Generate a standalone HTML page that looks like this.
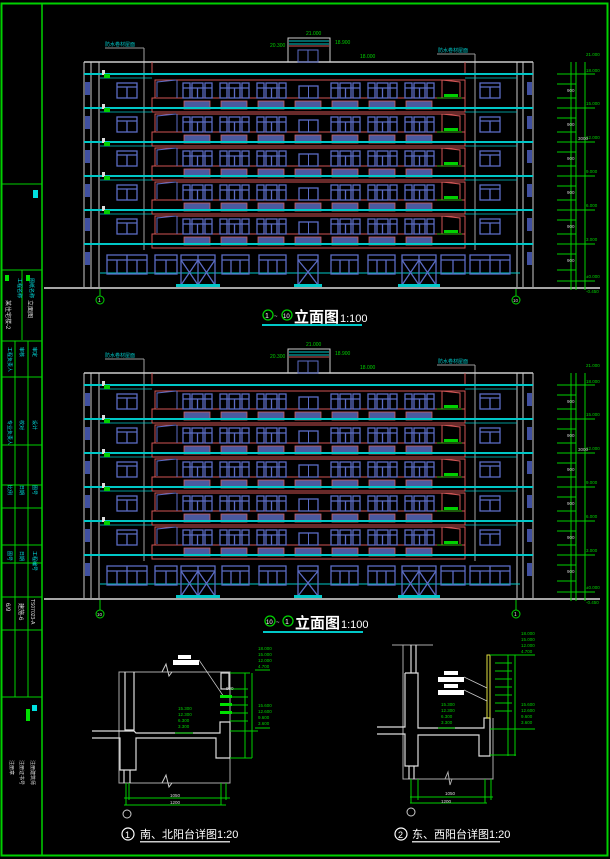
<!DOCTYPE html>
<html><head><meta charset="utf-8"><style>
html,body{margin:0;padding:0;background:#000;width:610px;height:859px;overflow:hidden}
svg{display:block}
text{font-family:"Liberation Sans","Noto Sans CJK SC",sans-serif}
</style></head><body>
<svg width="610" height="859" viewBox="0 0 610 859" xmlns="http://www.w3.org/2000/svg">
<defs>
<g id="tri" fill="none" stroke="#5b6cc4" stroke-width="1.3">
 <rect x="0" y="9" width="7" height="15"/><rect x="9" y="9" width="11" height="15"/><rect x="22" y="9" width="7" height="15"/>
 <line x1="0" y1="14" x2="29" y2="14"/><line x1="14.5" y1="14" x2="14.5" y2="24"/>
</g>
<g id="floor">
 <rect x="84" y="-1" width="449" height="2" fill="#00c8c8"/>
 <line x1="100" y1="4" x2="152" y2="4" stroke="#00c8c8" stroke-width="0.8"/>
 <line x1="465" y1="4" x2="517" y2="4" stroke="#00c8c8" stroke-width="0.8"/>
 <rect x="155" y="6" width="310" height="18" fill="none" stroke="#d05555" stroke-width="1"/>
 <rect x="152" y="24" width="313" height="14" fill="none" stroke="#d05555" stroke-width="1"/>
 <path d="M157 23 L157 8 L176 6 M177 6 L177 24" fill="none" stroke="#5b6cc4"/>
 <path d="M442 6 L460 8 L460 23 M442 6 L442 24" fill="none" stroke="#d05555"/>
 <use href="#tri" x="183"/><use href="#tri" x="220"/><use href="#tri" x="257"/>
 <use href="#tri" x="331"/><use href="#tri" x="368"/><use href="#tri" x="405"/>
 <rect x="299" y="12" width="19" height="12" fill="none" stroke="#5b6cc4" stroke-width="1.3"/>
 <line x1="308.5" y1="12" x2="308.5" y2="24" stroke="#5b6cc4"/>
 <g fill="#4a5aa0" stroke="#d06060" stroke-width="0.8">
  <rect x="184" y="27" width="26" height="8"/><rect x="221" y="27" width="26" height="8"/><rect x="258" y="27" width="26" height="8"/><rect x="295" y="27" width="26" height="8"/><rect x="332" y="27" width="26" height="8"/><rect x="369" y="27" width="26" height="8"/><rect x="406" y="27" width="26" height="8"/>
 </g>
 <g fill="none" stroke="#5b6cc4" stroke-width="1.3">
  <rect x="117" y="9" width="20" height="15"/><line x1="117" y1="13" x2="137" y2="13"/><line x1="127" y1="13" x2="127" y2="24"/>
  <rect x="480" y="9" width="20" height="15"/><line x1="480" y1="13" x2="500" y2="13"/><line x1="490" y1="13" x2="490" y2="24"/>
 </g>
 <rect x="85" y="8" width="5" height="13" fill="#4050a0"/>
 <rect x="527" y="8" width="5" height="13" fill="#4050a0"/>
 <rect x="102" y="-4" width="3" height="5" fill="#ddd"/>
 <rect x="104" y="0" width="6" height="4" fill="#00d000"/>
 <rect x="444" y="20" width="14" height="3" fill="#00d000"/>
 <line x1="437" y1="24" x2="462" y2="24" stroke="#00d000" stroke-width="0.8"/>
</g>
<g id="elev">
 <line x1="84" y1="62" x2="533" y2="62" stroke="#ccc" stroke-width="1.5"/>
 <line x1="84" y1="62" x2="84" y2="287" stroke="#ccc"/><line x1="91" y1="62" x2="91" y2="287" stroke="#ccc"/><line x1="99" y1="62" x2="99" y2="287" stroke="#ccc"/>
 <line x1="517" y1="62" x2="517" y2="287" stroke="#ccc"/><line x1="523" y1="62" x2="523" y2="287" stroke="#ccc"/><line x1="533" y1="62" x2="533" y2="287" stroke="#ccc"/>
 <line x1="144" y1="48" x2="144" y2="250" stroke="#ccc" stroke-width="0.8"/>
 <line x1="475" y1="54" x2="475" y2="250" stroke="#ccc" stroke-width="0.8"/>
 <line x1="105" y1="48" x2="144" y2="48" stroke="#999"/><line x1="437" y1="54" x2="475" y2="54" stroke="#999"/>
 <text x="105" y="46" font-size="5" fill="#00c8c8">防水卷材屋面</text>
 <text x="438" y="52" font-size="5" fill="#00c8c8">防水卷材屋面</text>
 <line x1="152" y1="62" x2="152" y2="74" stroke="#d05555"/><line x1="465" y1="62" x2="465" y2="74" stroke="#d05555"/>
 <rect x="288" y="38" width="42" height="24" fill="none" stroke="#ccc"/>
 <line x1="289" y1="41" x2="329" y2="41" stroke="#00c8c8"/><line x1="289" y1="44" x2="329" y2="44" stroke="#00c8c8"/><line x1="289" y1="46" x2="329" y2="46" stroke="#d05555"/>
 <rect x="298" y="50" width="20" height="12" fill="none" stroke="#5b6cc4"/><line x1="308" y1="50" x2="308" y2="62" stroke="#5b6cc4"/>
 <text x="306" y="35" font-size="5" fill="#00d000">21.000</text>
 <text x="270" y="47" font-size="5" fill="#00d000">20.300</text>
 <text x="335" y="44" font-size="5" fill="#00d000">18.900</text>
 <text x="360" y="58" font-size="5" fill="#00d000">18.000</text>
 <use href="#floor" y="74"/><use href="#floor" y="108"/><use href="#floor" y="142"/><use href="#floor" y="176"/><use href="#floor" y="210"/>
 <rect x="84" y="243" width="449" height="2" fill="#00c8c8"/>
 <line x1="100" y1="273" x2="520" y2="273" stroke="#00c8c8"/>
 <g fill="none" stroke="#5b6cc4" stroke-width="1.3">
  <rect x="107" y="255" width="40" height="19"/><line x1="107" y1="260" x2="147" y2="260"/><line x1="117" y1="260" x2="117" y2="274"/><line x1="127" y1="255" x2="127" y2="274"/><line x1="137" y1="260" x2="137" y2="274"/>
  <rect x="155" y="255" width="22" height="19"/><line x1="155" y1="260" x2="177" y2="260"/><line x1="166" y1="260" x2="166" y2="274"/>
  <rect x="181" y="255" width="34" height="30"/><line x1="181" y1="260" x2="215" y2="260"/><line x1="198" y1="255" x2="198" y2="285"/><path d="M181 260 L198 285 L215 260 M181 285 L198 260 L215 285"/>
  <rect x="222" y="255" width="27" height="19"/><line x1="222" y1="260" x2="249" y2="260"/><line x1="231" y1="260" x2="231" y2="274"/><line x1="240" y1="260" x2="240" y2="274"/>
  <rect x="259" y="255" width="27" height="19"/><line x1="259" y1="260" x2="286" y2="260"/><line x1="268" y1="260" x2="268" y2="274"/><line x1="277" y1="260" x2="277" y2="274"/>
  <rect x="298" y="255" width="20" height="30"/><line x1="298" y1="260" x2="318" y2="260"/><path d="M298 260 L308 272 L318 260 M298 285 L308 272 L318 285"/>
  <rect x="331" y="255" width="27" height="19"/><line x1="331" y1="260" x2="358" y2="260"/><line x1="340" y1="260" x2="340" y2="274"/><line x1="349" y1="260" x2="349" y2="274"/>
  <rect x="368" y="255" width="27" height="19"/><line x1="368" y1="260" x2="395" y2="260"/><line x1="377" y1="260" x2="377" y2="274"/><line x1="386" y1="260" x2="386" y2="274"/>
  <rect x="402" y="255" width="34" height="30"/><line x1="402" y1="260" x2="436" y2="260"/><line x1="419" y1="255" x2="419" y2="285"/><path d="M402 260 L419 285 L436 260 M402 285 L419 260 L436 285"/>
  <rect x="441" y="255" width="24" height="19"/><line x1="441" y1="260" x2="465" y2="260"/><line x1="453" y1="260" x2="453" y2="274"/>
  <rect x="470" y="255" width="40" height="19"/><line x1="470" y1="260" x2="510" y2="260"/><line x1="480" y1="260" x2="480" y2="274"/><line x1="490" y1="255" x2="490" y2="274"/><line x1="500" y1="260" x2="500" y2="274"/>
 </g>
 <rect x="176" y="284" width="44" height="3" fill="#00c8c8"/><rect x="294" y="284" width="28" height="3" fill="#00c8c8"/><rect x="398" y="284" width="42" height="3" fill="#00c8c8"/>
 <rect x="527" y="252" width="5" height="13" fill="#4050a0"/><rect x="85" y="252" width="5" height="13" fill="#4050a0"/>
 <line x1="44" y1="288" x2="600" y2="288" stroke="#ddd" stroke-width="1.5"/>
 <g stroke="#00d000" stroke-width="1" fill="none">
  <line x1="571" y1="62" x2="571" y2="290"/><line x1="576" y1="62" x2="576" y2="290"/><line x1="585" y1="62" x2="585" y2="290"/>
  <line x1="557" y1="74" x2="595" y2="74"/><line x1="557" y1="108" x2="595" y2="108"/><line x1="557" y1="142" x2="595" y2="142"/><line x1="557" y1="176" x2="595" y2="176"/><line x1="557" y1="210" x2="595" y2="210"/><line x1="557" y1="244" x2="595" y2="244"/><line x1="557" y1="281" x2="595" y2="281"/>
  <line x1="557" y1="84" x2="576" y2="84"/><line x1="557" y1="98" x2="576" y2="98"/><line x1="557" y1="118" x2="576" y2="118"/><line x1="557" y1="132" x2="576" y2="132"/><line x1="557" y1="152" x2="576" y2="152"/><line x1="557" y1="166" x2="576" y2="166"/><line x1="557" y1="186" x2="576" y2="186"/><line x1="557" y1="200" x2="576" y2="200"/><line x1="557" y1="220" x2="576" y2="220"/><line x1="557" y1="234" x2="576" y2="234"/><line x1="557" y1="254" x2="576" y2="254"/><line x1="557" y1="270" x2="576" y2="270"/>
 </g>
 <g fill="#00d000" font-size="4.5">
  <text x="586" y="56">21.000</text><text x="586" y="72">18.000</text><text x="586" y="105">15.000</text><text x="586" y="139">12.000</text><text x="586" y="173">9.000</text><text x="586" y="207">6.000</text><text x="586" y="241">3.000</text><text x="586" y="278">±0.000</text><text x="586" y="293">-0.450</text>
 </g>
 <g fill="#ccc" font-size="4.5"><text x="567" y="92">900</text><text x="567" y="126">900</text><text x="567" y="160">900</text><text x="567" y="194">900</text><text x="567" y="228">900</text><text x="567" y="262">900</text><text x="578" y="140">3000</text></g>
</g>
</defs>

<!-- frame -->
<rect x="1.5" y="3.5" width="606" height="852" fill="none" stroke="#00d000" stroke-width="2"/>
<line x1="42" y1="4" x2="42" y2="855" stroke="#00d000" stroke-width="1.5"/>
<g stroke="#00d000" stroke-width="1">
 <line x1="2" y1="184" x2="42" y2="184"/><line x1="2" y1="270" x2="42" y2="270"/><line x1="2" y1="341" x2="42" y2="341"/><line x1="2" y1="377" x2="42" y2="377"/><line x1="2" y1="445" x2="42" y2="445"/><line x1="2" y1="485" x2="42" y2="485"/><line x1="2" y1="508" x2="42" y2="508"/><line x1="2" y1="545" x2="42" y2="545"/><line x1="2" y1="563" x2="42" y2="563"/><line x1="2" y1="597" x2="42" y2="597"/><line x1="2" y1="630" x2="42" y2="630"/><line x1="2" y1="697" x2="42" y2="697"/>
 <line x1="22" y1="270" x2="22" y2="340"/><line x1="15" y1="341" x2="15" y2="697"/><line x1="28" y1="341" x2="28" y2="697"/>
</g>
<rect x="33" y="190" width="5" height="8" fill="#00e0e0"/>
<g fill="#00e0e0" font-size="5"><text transform="translate(18,278) rotate(90)">工程名称</text><text transform="translate(30,278) rotate(90)">图纸名称</text>
<text transform="translate(8,347) rotate(90)">工程负责人</text><text transform="translate(20,347) rotate(90)">审核</text><text transform="translate(33,347) rotate(90)">审定</text>
<text transform="translate(8,420) rotate(90)">专业负责人</text><text transform="translate(20,420) rotate(90)">校对</text><text transform="translate(33,420) rotate(90)">设计</text>
<text transform="translate(8,485) rotate(90)">比例</text><text transform="translate(20,485) rotate(90)">日期</text><text transform="translate(33,485) rotate(90)">图号</text>
<text transform="translate(8,551) rotate(90)">图号</text><text transform="translate(20,551) rotate(90)">日期</text><text transform="translate(33,551) rotate(90)">工程编号</text></g>
<rect x="5" y="275" width="4" height="6" fill="#00e000"/><rect x="26" y="275" width="4" height="6" fill="#00e000"/>
<g fill="#ddd" font-size="6"><text transform="translate(6,300) rotate(90)">某住宅楼-2</text><text transform="translate(28,300) rotate(90)">立面图</text>
<text transform="translate(6,603) rotate(90)">6/9</text><text transform="translate(19,603) rotate(90)">建施-6</text><text transform="translate(31,599) rotate(90)" font-size="5">TS07023-A</text>
<text transform="translate(10,760) rotate(90)" font-size="5">注册章</text><text transform="translate(20,760) rotate(90)" font-size="5">注册证书号</text><text transform="translate(31,760) rotate(90)" font-size="5">注册建筑师</text></g>
<rect x="26" y="709" width="4" height="12" fill="#00e000"/><rect x="32" y="705" width="5" height="6" fill="#00e0e0"/>

<!-- elevations -->
<use href="#elev"/>
<use href="#elev" y="311"/>
<line x1="100" y1="289" x2="100" y2="296" stroke="#00d000"/><circle cx="100" cy="300" r="4" fill="none" stroke="#00d000"/><text x="98" y="302" font-size="5" fill="#ddd">1</text>
<line x1="516" y1="289" x2="516" y2="296" stroke="#00d000"/><circle cx="516" cy="300" r="4" fill="none" stroke="#00d000"/><text x="513" y="302" font-size="4.5" fill="#ddd">10</text>
<line x1="100" y1="600" x2="100" y2="610" stroke="#00d000"/><circle cx="100" cy="614" r="4" fill="none" stroke="#00d000"/><text x="97" y="616" font-size="4.5" fill="#ddd">10</text>
<line x1="516" y1="600" x2="516" y2="610" stroke="#00d000"/><circle cx="516" cy="614" r="4" fill="none" stroke="#00d000"/><text x="514" y="616" font-size="5" fill="#ddd">1</text>

<g>
 <circle cx="268" cy="315" r="5" fill="none" stroke="#00d000" stroke-width="1.3"/><text x="265" y="318" font-size="7" fill="#fff">1</text>
 <text x="274" y="318" font-size="6" fill="#ddd">~</text>
 <circle cx="287" cy="315" r="5" fill="none" stroke="#00d000" stroke-width="1.3"/><text x="283" y="318" font-size="6" fill="#fff">10</text>
 <text x="294" y="322" font-size="15" font-weight="bold" fill="#fff">立面图</text><text x="340" y="322" font-size="11" fill="#fff">1:100</text>
 <rect x="262" y="324" width="100" height="2" fill="#00c8c8"/>
</g>
<g>
 <circle cx="270" cy="621" r="5" fill="none" stroke="#00d000" stroke-width="1.3"/><text x="266" y="624" font-size="6" fill="#fff">10</text>
 <text x="276" y="624" font-size="6" fill="#ddd">~</text>
 <circle cx="288" cy="621" r="5" fill="none" stroke="#00d000" stroke-width="1.3"/><text x="285" y="624" font-size="7" fill="#fff">1</text>
 <text x="295" y="628" font-size="15" font-weight="bold" fill="#fff">立面图</text><text x="341" y="628" font-size="11" fill="#fff">1:100</text>
 <rect x="263" y="631" width="100" height="2" fill="#00c8c8"/>
</g>

<!-- detail 1 -->
<g fill="none" stroke="#aaa" stroke-width="1">
 <path d="M119 672 L230 672 L230 783 L119 783 Z"/>
 <path d="M162 672 L166 664 L169 676 L172 672" stroke="#ccc"/>
 <path d="M162 783 L166 775 L169 787 L172 783" stroke="#ccc"/>
</g>
<g fill="none" stroke="#ddd" stroke-width="1.2">
 <path d="M125 672 L125 730 L134 730 L134 672"/>
 <path d="M92 731 L134 731 L136 733 L220 733 L220 722 L230 722 L230 758 L216 758 L216 738 L136 738 L136 770 L120 770 L120 738 L92 738"/>
 <rect x="221" y="673" width="8" height="16"/>
 <line x1="124" y1="770" x2="124" y2="783"/><line x1="130" y1="770" x2="130" y2="783"/>
</g>
<rect x="178" y="655" width="13" height="4" fill="#fff"/><rect x="173" y="660" width="26" height="5" fill="#fff"/>
<line x1="199" y1="660" x2="224" y2="697" stroke="#ccc" stroke-width="0.7"/>
<g stroke="#00d000" stroke-width="1">
 <line x1="230" y1="673" x2="250" y2="673"/><line x1="230" y1="689" x2="248" y2="689"/><line x1="230" y1="697" x2="248" y2="697"/><line x1="230" y1="705" x2="248" y2="705"/><line x1="230" y1="713" x2="248" y2="713"/><line x1="230" y1="721" x2="248" y2="721"/><line x1="230" y1="731" x2="258" y2="731"/><line x1="230" y1="758" x2="252" y2="758"/>
 <line x1="245" y1="673" x2="245" y2="758"/><line x1="252" y1="673" x2="252" y2="758"/>
 <line x1="255" y1="670" x2="270" y2="670"/><line x1="255" y1="728" x2="270" y2="728"/>
 <line x1="126" y1="783" x2="126" y2="805"/><line x1="129" y1="783" x2="129" y2="800"/><line x1="221" y1="783" x2="221" y2="805"/><line x1="226" y1="783" x2="226" y2="800"/>
 <line x1="124" y1="798" x2="230" y2="798"/><line x1="124" y1="805" x2="226" y2="805"/>
 <line x1="175" y1="733" x2="193" y2="733"/>
</g>
<g fill="#00d000" font-size="4.5"><text x="258" y="650">18.000</text><text x="258" y="656">15.000</text><text x="258" y="662">12.000</text><text x="258" y="668">4.700</text>
<text x="258" y="707">15.600</text><text x="258" y="713">12.600</text><text x="258" y="719">9.600</text><text x="258" y="725">3.600</text>
<text x="178" y="710">15.300</text><text x="178" y="716">12.300</text><text x="178" y="722">6.300</text><text x="178" y="728">3.300</text></g>
<g fill="#00e000"><rect x="220" y="695" width="12" height="3"/><rect x="220" y="703" width="12" height="3"/><rect x="220" y="711" width="12" height="3"/></g>
<g fill="#ddd" font-size="4.5"><text x="170" y="797">1050</text><text x="170" y="804">1200</text><text x="226" y="690">900</text></g>
<circle cx="127" cy="814" r="4" fill="none" stroke="#ccc"/>
<circle cx="128" cy="834" r="6" fill="none" stroke="#fff" stroke-width="1.2"/><text x="125" y="838" font-size="9" fill="#fff">1</text>
<text x="140" y="838" font-size="11" fill="#fff">南、北阳台详图1:20</text>
<rect x="140" y="841" width="90" height="1.5" fill="#ccc"/>

<!-- detail 2 -->
<g fill="none" stroke="#aaa" stroke-width="1">
 <path d="M403 645 L403 779 L493 779 L493 718"/><line x1="392" y1="645" x2="433" y2="645"/>
 <path d="M445 779 L448 772 L450 785 L452 779"/>
</g>
<g fill="none" stroke="#ddd" stroke-width="1.2">
 <path d="M405 673 L405 727 L377 727 M377 734 L405 734 L405 766 L418 766 L418 735 L479 735 L479 756 L490 756 L490 718 L484 718 L484 728 L418 728 L418 673 L405 673"/>
 <line x1="411" y1="645" x2="411" y2="673"/><line x1="416" y1="645" x2="416" y2="673"/>
 <line x1="409" y1="766" x2="409" y2="779"/><line x1="414" y1="766" x2="414" y2="779"/>
</g>
<rect x="487" y="655" width="3" height="63" fill="none" stroke="#e0e040" stroke-width="1"/>
<rect x="444" y="671" width="14" height="4" fill="#fff"/><rect x="438" y="677" width="26" height="5" fill="#fff"/>
<rect x="444" y="684" width="14" height="4" fill="#fff"/><rect x="438" y="690" width="26" height="5" fill="#fff"/>
<line x1="464" y1="677" x2="487" y2="688" stroke="#ccc" stroke-width="0.7"/><line x1="464" y1="690" x2="487" y2="701" stroke="#ccc" stroke-width="0.7"/>
<g stroke="#00d000" stroke-width="1">
 <line x1="490" y1="655" x2="535" y2="655"/><line x1="495" y1="663" x2="512" y2="663"/><line x1="495" y1="671" x2="512" y2="671"/><line x1="495" y1="679" x2="512" y2="679"/><line x1="495" y1="687" x2="512" y2="687"/><line x1="495" y1="695" x2="512" y2="695"/><line x1="495" y1="703" x2="512" y2="703"/><line x1="495" y1="711" x2="512" y2="711"/><line x1="490" y1="729" x2="535" y2="729"/><line x1="490" y1="755" x2="516" y2="755"/>
 <line x1="508" y1="655" x2="508" y2="756"/><line x1="515" y1="655" x2="515" y2="756"/>
 <line x1="411" y1="779" x2="411" y2="803"/><line x1="418" y1="779" x2="418" y2="800"/><line x1="485" y1="779" x2="485" y2="803"/><line x1="491" y1="779" x2="491" y2="800"/>
 <line x1="410" y1="797" x2="493" y2="797"/><line x1="410" y1="803" x2="487" y2="803"/>
 <line x1="438" y1="728" x2="455" y2="728"/>
</g>
<g fill="#00d000" font-size="4.5"><text x="521" y="635">18.000</text><text x="521" y="641">15.000</text><text x="521" y="647">12.000</text><text x="521" y="653">4.700</text>
<text x="521" y="706">15.600</text><text x="521" y="712">12.600</text><text x="521" y="718">9.600</text><text x="521" y="724">3.600</text>
<text x="441" y="706">15.300</text><text x="441" y="712">12.300</text><text x="441" y="718">6.300</text><text x="441" y="724">3.300</text></g>
<g fill="#ddd" font-size="4.5"><text x="445" y="795">1050</text><text x="441" y="803">1200</text></g>
<circle cx="411" cy="812" r="4" fill="none" stroke="#ccc"/>
<circle cx="401" cy="834" r="6" fill="none" stroke="#fff" stroke-width="1.2"/><text x="398" y="838" font-size="9" fill="#fff">2</text>
<text x="412" y="838" font-size="11" fill="#fff">东、西阳台详图1:20</text>
<rect x="412" y="841" width="88" height="1.5" fill="#ccc"/>
</svg>
</body></html>
